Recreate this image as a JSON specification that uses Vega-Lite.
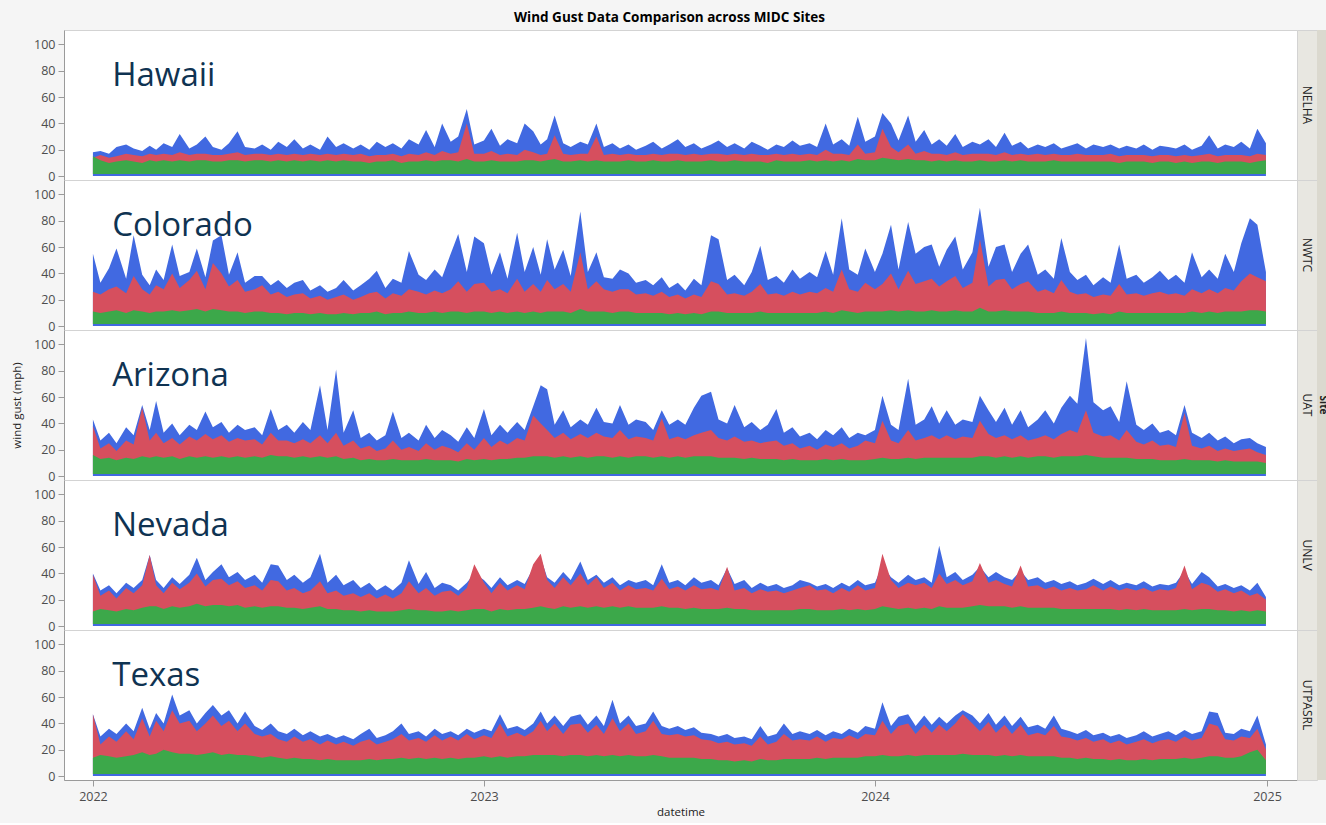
{
"$schema":"https://vega.github.io/schema/vega-lite/v6.json",
"background":"#f5f5f5",
"padding":{"left":11,"right":0,"top":11,"bottom":4},
"title":{"text":"Wind Gust Data Comparison across MIDC Sites","fontSize":13.5,"font":"Open Sans","fontWeight":"bold","color":"#000","offset":5,"anchor":"middle"},
"config":{
 "font":"Open Sans",
 "view":{"fill":"white","stroke":"#d3d3d3"},
 "axis":{"labelOverlap":false},
 "axisY":{"labelFontSize":12.5,"labelColor":"#4d4d4d","tickColor":"#9a9a9a","domainColor":"#9a9a9a","tickSize":6,"grid":false,"labelPadding":3,"labelOverlap":false,"titleFontSize":11.5,"titleFontWeight":"normal","titleColor":"#222","titlePadding":11},
 "axisX":{"labelFontSize":12.5,"labelColor":"#4d4d4d","tickColor":"#9a9a9a","domainColor":"#9a9a9a","tickSize":6,"grid":false,"labelPadding":4,"labelFlush":false,"titleFontSize":11.5,"titleFontWeight":"normal","titleColor":"#222","titlePadding":4}
},
"data":{"values":[
{"t":"2022-01-01","hb":18,"hr":14,"hg":15,"cb":55,"cr":26,"cg":11,"ab":43,"ar":38,"ag":16,"nb":40,"nr":39,"ng":11,"tb":47,"tr":47,"tg":14},
{"t":"2022-01-08","hb":19,"hr":16,"hg":12,"cb":33,"cr":24,"cg":10,"ab":27,"ar":21,"ag":13,"nb":27,"nr":23,"ng":13,"tb":30,"tr":24,"tg":16},
{"t":"2022-01-16","hb":17,"hr":14,"hg":10,"cb":44,"cr":28,"cg":11,"ab":33,"ar":25,"ag":14,"nb":31,"nr":27,"ng":12,"tb":36,"tr":30,"tg":15},
{"t":"2022-01-23","hb":22,"hr":15,"hg":11,"cb":59,"cr":30,"cg":12,"ab":25,"ar":19,"ag":12,"nb":25,"nr":21,"ng":11,"tb":32,"tr":26,"tg":14},
{"t":"2022-02-01","hb":24,"hr":17,"hg":12,"cb":36,"cr":25,"cg":10,"ab":37,"ar":27,"ag":14,"nb":33,"nr":29,"ng":13,"tb":40,"tr":34,"tg":15},
{"t":"2022-02-08","hb":21,"hr":16,"hg":11,"cb":69,"cr":38,"cg":12,"ab":31,"ar":24,"ag":13,"nb":29,"nr":25,"ng":12,"tb":34,"tr":28,"tg":16},
{"t":"2022-02-16","hb":19,"hr":15,"hg":10,"cb":39,"cr":28,"cg":11,"ab":54,"ar":52,"ag":15,"nb":35,"nr":31,"ng":14,"tb":52,"tr":44,"tg":18},
{"t":"2022-02-23","hb":23,"hr":17,"hg":12,"cb":31,"cr":24,"cg":10,"ab":35,"ar":27,"ag":14,"nb":54,"nr":54,"ng":15,"tb":36,"tr":30,"tg":16},
{"t":"2022-03-01","hb":20,"hr":16,"hg":11,"cb":43,"cr":31,"cg":11,"ab":57,"ar":33,"ag":15,"nb":35,"nr":31,"ng":15,"tb":48,"tr":42,"tg":17},
{"t":"2022-03-08","hb":25,"hr":17,"hg":12,"cb":35,"cr":28,"cg":11,"ab":33,"ar":25,"ag":14,"nb":29,"nr":25,"ng":13,"tb":40,"tr":34,"tg":20},
{"t":"2022-03-16","hb":22,"hr":16,"hg":11,"cb":62,"cr":40,"cg":12,"ab":40,"ar":29,"ag":15,"nb":37,"nr":33,"ng":15,"tb":62,"tr":50,"tg":18},
{"t":"2022-03-23","hb":32,"hr":18,"hg":12,"cb":38,"cr":29,"cg":11,"ab":31,"ar":24,"ag":13,"nb":32,"nr":28,"ng":14,"tb":46,"tr":40,"tg":17},
{"t":"2022-04-01","hb":21,"hr":16,"hg":11,"cb":41,"cr":35,"cg":12,"ab":39,"ar":30,"ag":15,"nb":39,"nr":33,"ng":15,"tb":50,"tr":42,"tg":17},
{"t":"2022-04-08","hb":24,"hr":17,"hg":12,"cb":59,"cr":42,"cg":13,"ab":35,"ar":27,"ag":14,"nb":52,"nr":40,"ng":17,"tb":40,"tr":34,"tg":16},
{"t":"2022-04-16","hb":30,"hr":17,"hg":12,"cb":37,"cr":28,"cg":11,"ab":49,"ar":32,"ag":15,"nb":35,"nr":30,"ng":15,"tb":48,"tr":40,"tg":17},
{"t":"2022-04-23","hb":22,"hr":16,"hg":11,"cb":65,"cr":48,"cg":13,"ab":37,"ar":28,"ag":14,"nb":41,"nr":35,"ng":16,"tb":54,"tr":46,"tg":18},
{"t":"2022-05-01","hb":20,"hr":16,"hg":11,"cb":69,"cr":40,"cg":12,"ab":41,"ar":31,"ag":15,"nb":47,"nr":36,"ng":16,"tb":46,"tr":38,"tg":16},
{"t":"2022-05-08","hb":25,"hr":17,"hg":12,"cb":39,"cr":30,"cg":11,"ab":33,"ar":26,"ag":14,"nb":37,"nr":31,"ng":15,"tb":50,"tr":42,"tg":17},
{"t":"2022-05-16","hb":34,"hr":18,"hg":12,"cb":56,"cr":35,"cg":11,"ab":39,"ar":29,"ag":15,"nb":41,"nr":34,"ng":16,"tb":40,"tr":34,"tg":16},
{"t":"2022-05-23","hb":22,"hr":16,"hg":11,"cb":33,"cr":26,"cg":10,"ab":35,"ar":27,"ag":14,"nb":35,"nr":29,"ng":14,"tb":49,"tr":40,"tg":16},
{"t":"2022-06-01","hb":21,"hr":17,"hg":12,"cb":38,"cr":28,"cg":11,"ab":37,"ar":28,"ag":15,"nb":39,"nr":31,"ng":15,"tb":38,"tr":32,"tg":15},
{"t":"2022-06-08","hb":24,"hr":17,"hg":12,"cb":38,"cr":31,"cg":11,"ab":31,"ar":24,"ag":14,"nb":33,"nr":27,"ng":14,"tb":35,"tr":30,"tg":14},
{"t":"2022-06-16","hb":20,"hr":16,"hg":11,"cb":31,"cr":24,"cg":10,"ab":51,"ar":33,"ag":16,"nb":47,"nr":35,"ng":15,"tb":40,"tr":32,"tg":15},
{"t":"2022-06-23","hb":26,"hr":17,"hg":12,"cb":35,"cr":26,"cg":10,"ab":35,"ar":27,"ag":15,"nb":46,"nr":34,"ng":15,"tb":34,"tr":28,"tg":14},
{"t":"2022-07-01","hb":22,"hr":16,"hg":11,"cb":29,"cr":22,"cg":9,"ab":39,"ar":27,"ag":15,"nb":35,"nr":27,"ng":14,"tb":32,"tr":26,"tg":13},
{"t":"2022-07-08","hb":28,"hr":17,"hg":12,"cb":33,"cr":24,"cg":10,"ab":33,"ar":25,"ag":14,"nb":39,"nr":29,"ng":14,"tb":36,"tr":30,"tg":14},
{"t":"2022-07-16","hb":21,"hr":16,"hg":11,"cb":35,"cr":25,"cg":10,"ab":41,"ar":28,"ag":15,"nb":33,"nr":25,"ng":13,"tb":31,"tr":26,"tg":13},
{"t":"2022-07-23","hb":24,"hr":17,"hg":12,"cb":27,"cr":21,"cg":9,"ab":35,"ar":25,"ag":14,"nb":37,"nr":27,"ng":14,"tb":34,"tr":28,"tg":13},
{"t":"2022-08-01","hb":20,"hr":16,"hg":11,"cb":31,"cr":23,"cg":10,"ab":69,"ar":31,"ag":15,"nb":55,"nr":34,"ng":15,"tb":30,"tr":24,"tg":12},
{"t":"2022-08-08","hb":30,"hr":17,"hg":12,"cb":26,"cr":20,"cg":9,"ab":35,"ar":25,"ag":14,"nb":33,"nr":25,"ng":13,"tb":32,"tr":27,"tg":13},
{"t":"2022-08-16","hb":22,"hr":16,"hg":11,"cb":29,"cr":22,"cg":9,"ab":81,"ar":33,"ag":15,"nb":39,"nr":27,"ng":13,"tb":29,"tr":24,"tg":12},
{"t":"2022-08-23","hb":25,"hr":17,"hg":12,"cb":35,"cr":24,"cg":10,"ab":33,"ar":23,"ag":13,"nb":31,"nr":23,"ng":12,"tb":31,"tr":26,"tg":12},
{"t":"2022-09-01","hb":21,"hr":16,"hg":11,"cb":27,"cr":20,"cg":9,"ab":50,"ar":27,"ag":14,"nb":35,"nr":25,"ng":12,"tb":28,"tr":23,"tg":12},
{"t":"2022-09-08","hb":24,"hr":17,"hg":11,"cb":31,"cr":22,"cg":10,"ab":29,"ar":21,"ag":12,"nb":29,"nr":22,"ng":11,"tb":32,"tr":26,"tg":12},
{"t":"2022-09-16","hb":20,"hr":15,"hg":10,"cb":36,"cr":25,"cg":10,"ab":33,"ar":23,"ag":13,"nb":33,"nr":25,"ng":12,"tb":36,"tr":28,"tg":13},
{"t":"2022-09-23","hb":26,"hr":16,"hg":11,"cb":42,"cr":26,"cg":11,"ab":27,"ar":19,"ag":12,"nb":27,"nr":21,"ng":11,"tb":29,"tr":24,"tg":12},
{"t":"2022-10-01","hb":22,"hr":16,"hg":11,"cb":29,"cr":21,"cg":9,"ab":31,"ar":21,"ag":12,"nb":31,"nr":24,"ng":11,"tb":31,"tr":26,"tg":13},
{"t":"2022-10-08","hb":25,"hr":17,"hg":12,"cb":36,"cr":25,"cg":10,"ab":49,"ar":27,"ag":13,"nb":27,"nr":21,"ng":11,"tb":34,"tr":28,"tg":13},
{"t":"2022-10-16","hb":21,"hr":15,"hg":10,"cb":33,"cr":23,"cg":10,"ab":29,"ar":20,"ag":12,"nb":33,"nr":25,"ng":12,"tb":40,"tr":32,"tg":14},
{"t":"2022-10-23","hb":28,"hr":17,"hg":11,"cb":57,"cr":28,"cg":11,"ab":33,"ar":22,"ag":12,"nb":50,"nr":34,"ng":13,"tb":32,"tr":27,"tg":13},
{"t":"2022-11-01","hb":24,"hr":16,"hg":11,"cb":39,"cr":26,"cg":10,"ab":27,"ar":19,"ag":12,"nb":32,"nr":25,"ng":12,"tb":34,"tr":29,"tg":14},
{"t":"2022-11-08","hb":35,"hr":18,"hg":12,"cb":35,"cr":24,"cg":10,"ab":39,"ar":25,"ag":13,"nb":41,"nr":29,"ng":12,"tb":30,"tr":26,"tg":13},
{"t":"2022-11-16","hb":22,"hr":16,"hg":11,"cb":43,"cr":27,"cg":11,"ab":29,"ar":20,"ag":12,"nb":29,"nr":23,"ng":11,"tb":36,"tr":31,"tg":14},
{"t":"2022-11-23","hb":40,"hr":19,"hg":12,"cb":37,"cr":25,"cg":10,"ab":35,"ar":23,"ag":12,"nb":33,"nr":26,"ng":11,"tb":32,"tr":27,"tg":13},
{"t":"2022-12-01","hb":26,"hr":17,"hg":12,"cb":55,"cr":28,"cg":11,"ab":31,"ar":21,"ag":12,"nb":31,"nr":27,"ng":12,"tb":34,"tr":30,"tg":14},
{"t":"2022-12-08","hb":30,"hr":18,"hg":11,"cb":70,"cr":34,"cg":11,"ab":26,"ar":18,"ag":11,"nb":27,"nr":23,"ng":11,"tb":31,"tr":27,"tg":13},
{"t":"2022-12-16","hb":51,"hr":40,"hg":13,"cb":41,"cr":26,"cg":10,"ab":37,"ar":25,"ag":13,"nb":33,"nr":29,"ng":12,"tb":36,"tr":32,"tg":14},
{"t":"2022-12-23","hb":24,"hr":17,"hg":11,"cb":68,"cr":32,"cg":11,"ab":29,"ar":20,"ag":12,"nb":40,"nr":47,"ng":13,"tb":33,"tr":28,"tg":14},
{"t":"2023-01-01","hb":27,"hr":17,"hg":11,"cb":63,"cr":33,"cg":11,"ab":51,"ar":29,"ag":13,"nb":35,"nr":33,"ng":13,"tb":36,"tr":31,"tg":15},
{"t":"2023-01-08","hb":36,"hr":19,"hg":12,"cb":39,"cr":26,"cg":10,"ab":31,"ar":22,"ag":12,"nb":29,"nr":25,"ng":11,"tb":34,"tr":29,"tg":14},
{"t":"2023-01-16","hb":23,"hr":16,"hg":11,"cb":56,"cr":28,"cg":11,"ab":39,"ar":27,"ag":13,"nb":37,"nr":33,"ng":13,"tb":47,"tr":40,"tg":15},
{"t":"2023-01-23","hb":28,"hr":17,"hg":11,"cb":36,"cr":25,"cg":10,"ab":33,"ar":24,"ag":13,"nb":31,"nr":27,"ng":12,"tb":36,"tr":30,"tg":14},
{"t":"2023-02-01","hb":25,"hr":16,"hg":11,"cb":71,"cr":36,"cg":11,"ab":41,"ar":29,"ag":14,"nb":35,"nr":31,"ng":13,"tb":38,"tr":33,"tg":15},
{"t":"2023-02-08","hb":40,"hr":20,"hg":12,"cb":41,"cr":26,"cg":10,"ab":35,"ar":27,"ag":14,"nb":32,"nr":28,"ng":13,"tb":35,"tr":30,"tg":15},
{"t":"2023-02-16","hb":34,"hr":18,"hg":12,"cb":60,"cr":32,"cg":11,"ab":53,"ar":46,"ag":15,"nb":44,"nr":47,"ng":14,"tb":40,"tr":34,"tg":16},
{"t":"2023-02-23","hb":24,"hr":16,"hg":11,"cb":39,"cr":26,"cg":10,"ab":69,"ar":40,"ag":15,"nb":52,"nr":55,"ng":15,"tb":49,"tr":42,"tg":16},
{"t":"2023-03-01","hb":28,"hr":17,"hg":12,"cb":66,"cr":35,"cg":11,"ab":66,"ar":35,"ag":15,"nb":37,"nr":35,"ng":14,"tb":40,"tr":34,"tg":16},
{"t":"2023-03-08","hb":46,"hr":31,"hg":13,"cb":43,"cr":28,"cg":11,"ab":39,"ar":29,"ag":14,"nb":33,"nr":29,"ng":13,"tb":46,"tr":40,"tg":16},
{"t":"2023-03-16","hb":25,"hr":17,"hg":11,"cb":58,"cr":32,"cg":11,"ab":50,"ar":33,"ag":15,"nb":41,"nr":37,"ng":15,"tb":38,"tr":32,"tg":15},
{"t":"2023-03-23","hb":22,"hr":16,"hg":11,"cb":38,"cr":26,"cg":10,"ab":37,"ar":28,"ag":14,"nb":35,"nr":31,"ng":14,"tb":45,"tr":39,"tg":16},
{"t":"2023-04-01","hb":26,"hr":17,"hg":12,"cb":87,"cr":56,"cg":13,"ab":43,"ar":32,"ag":15,"nb":49,"nr":40,"ng":15,"tb":47,"tr":40,"tg":16},
{"t":"2023-04-08","hb":24,"hr":17,"hg":11,"cb":41,"cr":28,"cg":11,"ab":39,"ar":29,"ag":14,"nb":35,"nr":31,"ng":14,"tb":39,"tr":33,"tg":15},
{"t":"2023-04-16","hb":40,"hr":30,"hg":12,"cb":56,"cr":34,"cg":11,"ab":52,"ar":33,"ag":15,"nb":39,"nr":37,"ng":15,"tb":46,"tr":39,"tg":16},
{"t":"2023-04-23","hb":22,"hr":16,"hg":11,"cb":37,"cr":28,"cg":11,"ab":41,"ar":30,"ag":15,"nb":33,"nr":29,"ng":14,"tb":38,"tr":32,"tg":15},
{"t":"2023-05-01","hb":25,"hr":17,"hg":11,"cb":36,"cr":26,"cg":10,"ab":40,"ar":29,"ag":14,"nb":37,"nr":33,"ng":15,"tb":58,"tr":44,"tg":16},
{"t":"2023-05-08","hb":21,"hr":16,"hg":11,"cb":43,"cr":28,"cg":11,"ab":54,"ar":35,"ag":15,"nb":31,"nr":27,"ng":14,"tb":40,"tr":34,"tg":15},
{"t":"2023-05-16","hb":24,"hr":17,"hg":12,"cb":40,"cr":28,"cg":11,"ab":39,"ar":28,"ag":14,"nb":35,"nr":31,"ng":15,"tb":46,"tr":40,"tg":16},
{"t":"2023-05-23","hb":20,"hr":16,"hg":11,"cb":33,"cr":24,"cg":10,"ab":43,"ar":30,"ag":15,"nb":33,"nr":28,"ng":14,"tb":38,"tr":32,"tg":15},
{"t":"2023-06-01","hb":23,"hr":16,"hg":11,"cb":35,"cr":25,"cg":10,"ab":41,"ar":29,"ag":15,"nb":35,"nr":29,"ng":14,"tb":40,"tr":34,"tg":15},
{"t":"2023-06-08","hb":26,"hr":17,"hg":12,"cb":31,"cr":23,"cg":10,"ab":35,"ar":27,"ag":14,"nb":31,"nr":27,"ng":14,"tb":49,"tr":42,"tg":16},
{"t":"2023-06-16","hb":21,"hr":16,"hg":11,"cb":37,"cr":26,"cg":10,"ab":50,"ar":44,"ag":15,"nb":47,"nr":36,"ng":15,"tb":38,"tr":32,"tg":15},
{"t":"2023-06-23","hb":24,"hr":17,"hg":11,"cb":29,"cr":22,"cg":9,"ab":39,"ar":28,"ag":14,"nb":33,"nr":28,"ng":14,"tb":36,"tr":31,"tg":14},
{"t":"2023-07-01","hb":28,"hr":17,"hg":12,"cb":33,"cr":24,"cg":10,"ab":43,"ar":30,"ag":15,"nb":35,"nr":30,"ng":14,"tb":38,"tr":32,"tg":14},
{"t":"2023-07-08","hb":22,"hr":16,"hg":11,"cb":27,"cr":21,"cg":9,"ab":39,"ar":28,"ag":14,"nb":31,"nr":27,"ng":13,"tb":35,"tr":30,"tg":14},
{"t":"2023-07-16","hb":25,"hr":17,"hg":11,"cb":36,"cr":24,"cg":10,"ab":52,"ar":31,"ag":15,"nb":37,"nr":31,"ng":14,"tb":37,"tr":31,"tg":14},
{"t":"2023-07-23","hb":21,"hr":16,"hg":11,"cb":31,"cr":22,"cg":9,"ab":61,"ar":33,"ag":15,"nb":33,"nr":28,"ng":13,"tb":33,"tr":28,"tg":13},
{"t":"2023-08-01","hb":24,"hr":17,"hg":12,"cb":69,"cr":34,"cg":11,"ab":64,"ar":35,"ag":15,"nb":35,"nr":29,"ng":13,"tb":32,"tr":27,"tg":13},
{"t":"2023-08-08","hb":27,"hr":17,"hg":11,"cb":66,"cr":32,"cg":11,"ab":43,"ar":29,"ag":14,"nb":31,"nr":27,"ng":13,"tb":30,"tr":25,"tg":12},
{"t":"2023-08-16","hb":22,"hr":16,"hg":11,"cb":35,"cr":24,"cg":10,"ab":40,"ar":27,"ag":14,"nb":44,"nr":45,"ng":14,"tb":32,"tr":26,"tg":12},
{"t":"2023-08-23","hb":25,"hr":17,"hg":12,"cb":39,"cr":25,"cg":10,"ab":54,"ar":30,"ag":14,"nb":32,"nr":27,"ng":13,"tb":29,"tr":24,"tg":11},
{"t":"2023-09-01","hb":21,"hr":16,"hg":11,"cb":31,"cr":23,"cg":10,"ab":37,"ar":26,"ag":13,"nb":35,"nr":29,"ng":13,"tb":30,"tr":25,"tg":12},
{"t":"2023-09-08","hb":26,"hr":17,"hg":11,"cb":41,"cr":26,"cg":10,"ab":41,"ar":27,"ag":14,"nb":29,"nr":25,"ng":12,"tb":28,"tr":23,"tg":11},
{"t":"2023-09-16","hb":23,"hr":16,"hg":11,"cb":61,"cr":32,"cg":11,"ab":35,"ar":25,"ag":13,"nb":33,"nr":28,"ng":12,"tb":38,"tr":30,"tg":13},
{"t":"2023-09-23","hb":20,"hr":16,"hg":10,"cb":35,"cr":24,"cg":10,"ab":39,"ar":26,"ag":13,"nb":30,"nr":26,"ng":12,"tb":30,"tr":24,"tg":12},
{"t":"2023-10-01","hb":24,"hr":17,"hg":12,"cb":38,"cr":25,"cg":10,"ab":51,"ar":27,"ag":13,"nb":32,"nr":27,"ng":12,"tb":32,"tr":26,"tg":12},
{"t":"2023-10-08","hb":22,"hr":16,"hg":11,"cb":33,"cr":23,"cg":10,"ab":33,"ar":23,"ag":12,"nb":29,"nr":25,"ng":12,"tb":40,"tr":32,"tg":13},
{"t":"2023-10-16","hb":27,"hr":17,"hg":11,"cb":43,"cr":26,"cg":10,"ab":37,"ar":25,"ag":13,"nb":31,"nr":27,"ng":12,"tb":32,"tr":27,"tg":13},
{"t":"2023-10-23","hb":23,"hr":16,"hg":11,"cb":36,"cr":24,"cg":10,"ab":30,"ar":21,"ag":12,"nb":35,"nr":29,"ng":13,"tb":34,"tr":28,"tg":13},
{"t":"2023-11-01","hb":25,"hr":17,"hg":12,"cb":41,"cr":26,"cg":10,"ab":33,"ar":23,"ag":12,"nb":33,"nr":31,"ng":13,"tb":32,"tr":27,"tg":13},
{"t":"2023-11-08","hb":22,"hr":16,"hg":11,"cb":37,"cr":25,"cg":10,"ab":28,"ar":20,"ag":12,"nb":30,"nr":27,"ng":12,"tb":35,"tr":30,"tg":14},
{"t":"2023-11-16","hb":40,"hr":20,"hg":12,"cb":57,"cr":29,"cg":11,"ab":35,"ar":24,"ag":13,"nb":32,"nr":28,"ng":12,"tb":31,"tr":26,"tg":13},
{"t":"2023-11-23","hb":24,"hr":17,"hg":11,"cb":39,"cr":26,"cg":10,"ab":31,"ar":22,"ag":12,"nb":29,"nr":25,"ng":12,"tb":34,"tr":29,"tg":14},
{"t":"2023-12-01","hb":28,"hr":17,"hg":12,"cb":82,"cr":43,"cg":12,"ab":37,"ar":25,"ag":13,"nb":33,"nr":29,"ng":13,"tb":32,"tr":28,"tg":14},
{"t":"2023-12-08","hb":23,"hr":16,"hg":11,"cb":43,"cr":28,"cg":11,"ab":29,"ar":21,"ag":12,"nb":30,"nr":26,"ng":12,"tb":36,"tr":31,"tg":14},
{"t":"2023-12-16","hb":45,"hr":24,"hg":13,"cb":39,"cr":26,"cg":10,"ab":33,"ar":23,"ag":12,"nb":35,"nr":31,"ng":13,"tb":33,"tr":28,"tg":14},
{"t":"2023-12-23","hb":26,"hr":17,"hg":12,"cb":59,"cr":33,"cg":11,"ab":31,"ar":27,"ag":12,"nb":31,"nr":27,"ng":12,"tb":38,"tr":32,"tg":15},
{"t":"2024-01-01","hb":30,"hr":18,"hg":12,"cb":41,"cr":28,"cg":11,"ab":35,"ar":25,"ag":13,"nb":33,"nr":29,"ng":13,"tb":36,"tr":31,"tg":15},
{"t":"2024-01-08","hb":48,"hr":36,"hg":14,"cb":55,"cr":32,"cg":11,"ab":61,"ar":42,"ag":14,"nb":46,"nr":55,"ng":15,"tb":56,"tr":42,"tg":16},
{"t":"2024-01-16","hb":40,"hr":22,"hg":13,"cb":77,"cr":40,"cg":12,"ab":39,"ar":27,"ag":13,"nb":37,"nr":35,"ng":14,"tb":38,"tr":32,"tg":15},
{"t":"2024-01-23","hb":27,"hr":18,"hg":12,"cb":43,"cr":28,"cg":11,"ab":35,"ar":25,"ag":13,"nb":33,"nr":29,"ng":13,"tb":45,"tr":38,"tg":15},
{"t":"2024-02-01","hb":46,"hr":24,"hg":13,"cb":79,"cr":42,"cg":12,"ab":74,"ar":35,"ag":14,"nb":39,"nr":33,"ng":14,"tb":47,"tr":40,"tg":16},
{"t":"2024-02-08","hb":26,"hr":17,"hg":12,"cb":55,"cr":32,"cg":11,"ab":39,"ar":27,"ag":13,"nb":35,"nr":31,"ng":13,"tb":38,"tr":32,"tg":15},
{"t":"2024-02-16","hb":35,"hr":19,"hg":12,"cb":60,"cr":34,"cg":11,"ab":43,"ar":29,"ag":14,"nb":37,"nr":33,"ng":14,"tb":46,"tr":39,"tg":16},
{"t":"2024-02-23","hb":24,"hr":17,"hg":11,"cb":62,"cr":36,"cg":12,"ab":53,"ar":31,"ag":14,"nb":33,"nr":29,"ng":13,"tb":39,"tr":33,"tg":16},
{"t":"2024-03-01","hb":28,"hr":17,"hg":12,"cb":45,"cr":30,"cg":11,"ab":40,"ar":28,"ag":14,"nb":61,"nr":40,"ng":15,"tb":45,"tr":39,"tg":16},
{"t":"2024-03-08","hb":23,"hr":16,"hg":11,"cb":58,"cr":34,"cg":11,"ab":50,"ar":31,"ag":14,"nb":37,"nr":32,"ng":14,"tb":40,"tr":34,"tg":16},
{"t":"2024-03-16","hb":32,"hr":18,"hg":12,"cb":68,"cr":38,"cg":12,"ab":39,"ar":28,"ag":14,"nb":41,"nr":35,"ng":14,"tb":46,"tr":40,"tg":16},
{"t":"2024-03-23","hb":22,"hr":16,"hg":11,"cb":43,"cr":29,"cg":11,"ab":43,"ar":30,"ag":14,"nb":35,"nr":31,"ng":14,"tb":50,"tr":47,"tg":17},
{"t":"2024-04-01","hb":26,"hr":17,"hg":11,"cb":56,"cr":33,"cg":11,"ab":41,"ar":29,"ag":14,"nb":39,"nr":34,"ng":15,"tb":46,"tr":40,"tg":16},
{"t":"2024-04-08","hb":24,"hr":17,"hg":12,"cb":90,"cr":66,"cg":14,"ab":61,"ar":42,"ag":15,"nb":45,"nr":48,"ng":16,"tb":40,"tr":34,"tg":16},
{"t":"2024-04-16","hb":28,"hr":17,"hg":11,"cb":45,"cr":30,"cg":11,"ab":50,"ar":32,"ag":15,"nb":37,"nr":33,"ng":15,"tb":48,"tr":41,"tg":16},
{"t":"2024-04-23","hb":22,"hr":16,"hg":11,"cb":60,"cr":35,"cg":11,"ab":41,"ar":29,"ag":14,"nb":41,"nr":35,"ng":15,"tb":39,"tr":33,"tg":15},
{"t":"2024-05-01","hb":33,"hr":18,"hg":12,"cb":62,"cr":36,"cg":12,"ab":52,"ar":31,"ag":15,"nb":37,"nr":32,"ng":15,"tb":46,"tr":39,"tg":16},
{"t":"2024-05-08","hb":23,"hr":16,"hg":11,"cb":41,"cr":28,"cg":11,"ab":39,"ar":28,"ag":14,"nb":35,"nr":30,"ng":14,"tb":38,"tr":32,"tg":15},
{"t":"2024-05-16","hb":26,"hr":17,"hg":12,"cb":55,"cr":32,"cg":11,"ab":50,"ar":31,"ag":15,"nb":42,"nr":46,"ng":15,"tb":45,"tr":39,"tg":16},
{"t":"2024-05-23","hb":21,"hr":16,"hg":11,"cb":62,"cr":34,"cg":11,"ab":37,"ar":27,"ag":14,"nb":35,"nr":30,"ng":14,"tb":37,"tr":31,"tg":15},
{"t":"2024-06-01","hb":24,"hr":17,"hg":11,"cb":39,"cr":26,"cg":10,"ab":43,"ar":29,"ag":15,"nb":37,"nr":31,"ng":14,"tb":39,"tr":33,"tg":15},
{"t":"2024-06-08","hb":22,"hr":16,"hg":11,"cb":43,"cr":28,"cg":10,"ab":50,"ar":31,"ag":15,"nb":33,"nr":28,"ng":14,"tb":36,"tr":31,"tg":15},
{"t":"2024-06-16","hb":25,"hr":17,"hg":12,"cb":36,"cr":25,"cg":10,"ab":40,"ar":28,"ag":14,"nb":35,"nr":30,"ng":14,"tb":46,"tr":38,"tg":15},
{"t":"2024-06-23","hb":21,"hr":16,"hg":11,"cb":67,"cr":35,"cg":11,"ab":52,"ar":32,"ag":15,"nb":32,"nr":27,"ng":13,"tb":36,"tr":30,"tg":14},
{"t":"2024-07-01","hb":23,"hr":16,"hg":11,"cb":41,"cr":26,"cg":10,"ab":61,"ar":35,"ag":15,"nb":34,"nr":29,"ng":13,"tb":34,"tr":29,"tg":14},
{"t":"2024-07-08","hb":25,"hr":17,"hg":11,"cb":35,"cr":24,"cg":10,"ab":55,"ar":33,"ag":15,"nb":31,"nr":27,"ng":13,"tb":32,"tr":27,"tg":13},
{"t":"2024-07-16","hb":21,"hr":16,"hg":11,"cb":39,"cr":25,"cg":10,"ab":105,"ar":50,"ag":16,"nb":33,"nr":28,"ng":13,"tb":35,"tr":29,"tg":14},
{"t":"2024-07-23","hb":24,"hr":16,"hg":11,"cb":31,"cr":22,"cg":9,"ab":56,"ar":33,"ag":15,"nb":36,"nr":31,"ng":13,"tb":31,"tr":26,"tg":13},
{"t":"2024-08-01","hb":22,"hr":16,"hg":11,"cb":37,"cr":24,"cg":10,"ab":50,"ar":30,"ag":14,"nb":32,"nr":27,"ng":13,"tb":33,"tr":28,"tg":13},
{"t":"2024-08-08","hb":24,"hr":17,"hg":11,"cb":33,"cr":23,"cg":9,"ab":53,"ar":31,"ag":14,"nb":35,"nr":30,"ng":13,"tb":30,"tr":25,"tg":12},
{"t":"2024-08-16","hb":21,"hr":15,"hg":10,"cb":62,"cr":32,"cg":11,"ab":41,"ar":27,"ag":14,"nb":31,"nr":27,"ng":12,"tb":32,"tr":27,"tg":13},
{"t":"2024-08-23","hb":23,"hr":16,"hg":11,"cb":36,"cr":24,"cg":10,"ab":72,"ar":35,"ag":14,"nb":33,"nr":29,"ng":13,"tb":29,"tr":24,"tg":12},
{"t":"2024-09-01","hb":21,"hr":16,"hg":11,"cb":39,"cr":25,"cg":10,"ab":39,"ar":26,"ag":13,"nb":31,"nr":27,"ng":12,"tb":31,"tr":26,"tg":12},
{"t":"2024-09-08","hb":24,"hr":16,"hg":11,"cb":33,"cr":23,"cg":10,"ab":35,"ar":24,"ag":13,"nb":34,"nr":29,"ng":13,"tb":34,"tr":28,"tg":13},
{"t":"2024-09-16","hb":20,"hr":15,"hg":10,"cb":37,"cr":25,"cg":10,"ab":40,"ar":27,"ag":13,"nb":30,"nr":26,"ng":12,"tb":30,"tr":25,"tg":12},
{"t":"2024-09-23","hb":23,"hr":16,"hg":11,"cb":42,"cr":26,"cg":10,"ab":33,"ar":23,"ag":12,"nb":32,"nr":28,"ng":12,"tb":32,"tr":27,"tg":13},
{"t":"2024-10-01","hb":22,"hr":16,"hg":11,"cb":35,"cr":24,"cg":10,"ab":35,"ar":24,"ag":12,"nb":31,"nr":27,"ng":12,"tb":34,"tr":28,"tg":13},
{"t":"2024-10-08","hb":21,"hr":15,"hg":10,"cb":39,"cr":25,"cg":10,"ab":31,"ar":22,"ag":12,"nb":33,"nr":29,"ng":12,"tb":31,"tr":26,"tg":13},
{"t":"2024-10-16","hb":24,"hr":16,"hg":11,"cb":33,"cr":23,"cg":10,"ab":54,"ar":48,"ag":13,"nb":42,"nr":46,"ng":13,"tb":35,"tr":30,"tg":14},
{"t":"2024-10-23","hb":20,"hr":15,"hg":10,"cb":56,"cr":28,"cg":11,"ab":33,"ar":23,"ag":12,"nb":32,"nr":28,"ng":12,"tb":32,"tr":27,"tg":13},
{"t":"2024-11-01","hb":23,"hr":16,"hg":11,"cb":37,"cr":25,"cg":10,"ab":29,"ar":21,"ag":12,"nb":41,"nr":33,"ng":13,"tb":34,"tr":29,"tg":14},
{"t":"2024-11-08","hb":31,"hr":17,"hg":11,"cb":43,"cr":28,"cg":11,"ab":33,"ar":23,"ag":12,"nb":37,"nr":31,"ng":13,"tb":49,"tr":40,"tg":15},
{"t":"2024-11-16","hb":21,"hr":15,"hg":10,"cb":36,"cr":25,"cg":10,"ab":27,"ar":19,"ag":11,"nb":30,"nr":26,"ng":12,"tb":48,"tr":38,"tg":15},
{"t":"2024-11-23","hb":24,"hr":16,"hg":11,"cb":55,"cr":29,"cg":11,"ab":30,"ar":21,"ag":12,"nb":32,"nr":28,"ng":12,"tb":33,"tr":28,"tg":14},
{"t":"2024-12-01","hb":22,"hr":16,"hg":11,"cb":41,"cr":27,"cg":11,"ab":25,"ar":19,"ag":11,"nb":29,"nr":25,"ng":11,"tb":32,"tr":27,"tg":14},
{"t":"2024-12-08","hb":26,"hr":16,"hg":11,"cb":63,"cr":34,"cg":11,"ab":28,"ar":20,"ag":11,"nb":31,"nr":27,"ng":12,"tb":36,"tr":30,"tg":15},
{"t":"2024-12-16","hb":21,"hr":15,"hg":10,"cb":82,"cr":40,"cg":12,"ab":29,"ar":21,"ag":11,"nb":27,"nr":23,"ng":11,"tb":34,"tr":29,"tg":18},
{"t":"2024-12-23","hb":36,"hr":17,"hg":11,"cb":77,"cr":37,"cg":12,"ab":25,"ar":18,"ag":11,"nb":33,"nr":25,"ng":12,"tb":46,"tr":36,"tg":20},
{"t":"2024-12-31","hb":25,"hr":16,"hg":12,"cb":41,"cr":34,"cg":11,"ab":22,"ar":16,"ag":10,"nb":22,"nr":20,"ng":11,"tb":24,"tr":20,"tg":12}
]},
"columns":3,
"spacing":0,
"bounds":"flush",
"concat":[
  {"width":1233,"height":150,"layer":[
   {"mark":{"type":"area","color":"#4169e1"},"encoding":{"x":{"field":"t","type":"temporal","axis":null,"scale":{"type":"utc","domain":[{"year":2021,"month":12,"date":5,"utc":true},{"year":2025,"month":1,"date":29,"utc":true}]}},"y":{"field":"hb","type":"quantitative","title":null,"scale":{"domain":[-3,111],"nice":false},"axis":{"labelOverlap":false,"tickCount":6,"values":[0,20,40,60,80,100]}},"y2":{"datum":0}}},
   {"mark":{"type":"area","color":"#d64f5e"},"encoding":{"x":{"field":"t","type":"temporal","axis":null},"y":{"field":"hr","type":"quantitative","title":null,"axis":{"labelOverlap":false,"tickCount":6,"values":[0,20,40,60,80,100]}},"y2":{"datum":1.5}}},
   {"mark":{"type":"area","color":"#3ca84a"},"encoding":{"x":{"field":"t","type":"temporal","axis":null},"y":{"field":"hg","type":"quantitative","title":null,"axis":{"labelOverlap":false,"tickCount":6,"values":[0,20,40,60,80,100]}},"y2":{"datum":1.5}}},
   {"data":{"values":[{"lab":"Hawaii"}]},"mark":{"type":"text","fontSize":33,"color":"#0f3352","align":"left","baseline":"alphabetic"},"encoding":{"x":{"datum":{"year":2022,"month":1,"date":19,"utc":true},"type":"temporal","axis":null},"y":{"datum":68.5,"title":null,"axis":{"labelOverlap":false,"tickCount":6,"values":[0,20,40,60,80,100]}},"text":{"field":"lab"}}}
  ]},
  {"width":20,"height":150,"data":{"values":[{"s":"NELHA"}]},"view":{"fill":"#e8e7e1","stroke":"#d3d3d3"},"mark":{"type":"text","angle":90,"fontSize":12,"color":"#222"},"encoding":{"text":{"field":"s"}}},
  {"width":11,"height":150,"data":{"values":[{"s":""}]},"view":{"fill":"#dbd9cf","stroke":null},"mark":{"type":"text","angle":90,"fontSize":10,"fontWeight":"bold","color":"#222"},"encoding":{"text":{"field":"s"}}},
  {"width":1233,"height":150,"layer":[
   {"mark":{"type":"area","color":"#4169e1"},"encoding":{"x":{"field":"t","type":"temporal","axis":null,"scale":{"type":"utc","domain":[{"year":2021,"month":12,"date":5,"utc":true},{"year":2025,"month":1,"date":29,"utc":true}]}},"y":{"field":"cb","type":"quantitative","title":null,"scale":{"domain":[-3,111],"nice":false},"axis":{"labelOverlap":false,"tickCount":6,"values":[0,20,40,60,80,100]}},"y2":{"datum":0}}},
   {"mark":{"type":"area","color":"#d64f5e"},"encoding":{"x":{"field":"t","type":"temporal","axis":null},"y":{"field":"cr","type":"quantitative","title":null,"axis":{"labelOverlap":false,"tickCount":6,"values":[0,20,40,60,80,100]}},"y2":{"datum":1.5}}},
   {"mark":{"type":"area","color":"#3ca84a"},"encoding":{"x":{"field":"t","type":"temporal","axis":null},"y":{"field":"cg","type":"quantitative","title":null,"axis":{"labelOverlap":false,"tickCount":6,"values":[0,20,40,60,80,100]}},"y2":{"datum":1.5}}},
   {"data":{"values":[{"lab":"Colorado"}]},"mark":{"type":"text","fontSize":33,"color":"#0f3352","align":"left","baseline":"alphabetic"},"encoding":{"x":{"datum":{"year":2022,"month":1,"date":19,"utc":true},"type":"temporal","axis":null},"y":{"datum":68.5,"title":null,"axis":{"labelOverlap":false,"tickCount":6,"values":[0,20,40,60,80,100]}},"text":{"field":"lab"}}}
  ]},
  {"width":20,"height":150,"data":{"values":[{"s":"NWTC"}]},"view":{"fill":"#e8e7e1","stroke":"#d3d3d3"},"mark":{"type":"text","angle":90,"fontSize":12,"color":"#222"},"encoding":{"text":{"field":"s"}}},
  {"width":11,"height":150,"data":{"values":[{"s":""}]},"view":{"fill":"#dbd9cf","stroke":null},"mark":{"type":"text","angle":90,"fontSize":10,"fontWeight":"bold","color":"#222"},"encoding":{"text":{"field":"s"}}},
  {"width":1233,"height":150,"layer":[
   {"mark":{"type":"area","color":"#4169e1"},"encoding":{"x":{"field":"t","type":"temporal","axis":null,"scale":{"type":"utc","domain":[{"year":2021,"month":12,"date":5,"utc":true},{"year":2025,"month":1,"date":29,"utc":true}]}},"y":{"field":"ab","type":"quantitative","title":"wind gust (mph)","scale":{"domain":[-3,111],"nice":false},"axis":{"labelOverlap":false,"tickCount":6,"title":"wind gust (mph)","values":[0,20,40,60,80,100]}},"y2":{"datum":0}}},
   {"mark":{"type":"area","color":"#d64f5e"},"encoding":{"x":{"field":"t","type":"temporal","axis":null},"y":{"field":"ar","type":"quantitative","title":"wind gust (mph)","axis":{"labelOverlap":false,"tickCount":6,"title":"wind gust (mph)","values":[0,20,40,60,80,100]}},"y2":{"datum":1.5}}},
   {"mark":{"type":"area","color":"#3ca84a"},"encoding":{"x":{"field":"t","type":"temporal","axis":null},"y":{"field":"ag","type":"quantitative","title":"wind gust (mph)","axis":{"labelOverlap":false,"tickCount":6,"title":"wind gust (mph)","values":[0,20,40,60,80,100]}},"y2":{"datum":1.5}}},
   {"data":{"values":[{"lab":"Arizona"}]},"mark":{"type":"text","fontSize":33,"color":"#0f3352","align":"left","baseline":"alphabetic"},"encoding":{"x":{"datum":{"year":2022,"month":1,"date":19,"utc":true},"type":"temporal","axis":null},"y":{"datum":68.5,"title":"wind gust (mph)","axis":{"labelOverlap":false,"tickCount":6,"title":"wind gust (mph)","values":[0,20,40,60,80,100]}},"text":{"field":"lab"}}}
  ]},
  {"width":20,"height":150,"data":{"values":[{"s":"UAT"}]},"view":{"fill":"#e8e7e1","stroke":"#d3d3d3"},"mark":{"type":"text","angle":90,"fontSize":12,"color":"#222"},"encoding":{"text":{"field":"s"}}},
  {"width":11,"height":150,"data":{"values":[{"s":"Site"}]},"view":{"fill":"#dbd9cf","stroke":null},"mark":{"type":"text","angle":90,"fontSize":10,"fontWeight":"bold","color":"#222"},"encoding":{"text":{"field":"s"}}},
  {"width":1233,"height":150,"layer":[
   {"mark":{"type":"area","color":"#4169e1"},"encoding":{"x":{"field":"t","type":"temporal","axis":null,"scale":{"type":"utc","domain":[{"year":2021,"month":12,"date":5,"utc":true},{"year":2025,"month":1,"date":29,"utc":true}]}},"y":{"field":"nb","type":"quantitative","title":null,"scale":{"domain":[-3,111],"nice":false},"axis":{"labelOverlap":false,"tickCount":6,"values":[0,20,40,60,80,100]}},"y2":{"datum":0}}},
   {"mark":{"type":"area","color":"#d64f5e"},"encoding":{"x":{"field":"t","type":"temporal","axis":null},"y":{"field":"nr","type":"quantitative","title":null,"axis":{"labelOverlap":false,"tickCount":6,"values":[0,20,40,60,80,100]}},"y2":{"datum":1.5}}},
   {"mark":{"type":"area","color":"#3ca84a"},"encoding":{"x":{"field":"t","type":"temporal","axis":null},"y":{"field":"ng","type":"quantitative","title":null,"axis":{"labelOverlap":false,"tickCount":6,"values":[0,20,40,60,80,100]}},"y2":{"datum":1.5}}},
   {"data":{"values":[{"lab":"Nevada"}]},"mark":{"type":"text","fontSize":33,"color":"#0f3352","align":"left","baseline":"alphabetic"},"encoding":{"x":{"datum":{"year":2022,"month":1,"date":19,"utc":true},"type":"temporal","axis":null},"y":{"datum":68.5,"title":null,"axis":{"labelOverlap":false,"tickCount":6,"values":[0,20,40,60,80,100]}},"text":{"field":"lab"}}}
  ]},
  {"width":20,"height":150,"data":{"values":[{"s":"UNLV"}]},"view":{"fill":"#e8e7e1","stroke":"#d3d3d3"},"mark":{"type":"text","angle":90,"fontSize":12,"color":"#222"},"encoding":{"text":{"field":"s"}}},
  {"width":11,"height":150,"data":{"values":[{"s":""}]},"view":{"fill":"#dbd9cf","stroke":null},"mark":{"type":"text","angle":90,"fontSize":10,"fontWeight":"bold","color":"#222"},"encoding":{"text":{"field":"s"}}},
  {"width":1233,"height":150,"layer":[
   {"mark":{"type":"area","color":"#4169e1"},"encoding":{"x":{"field":"t","type":"temporal","title":"datetime","scale":{"type":"utc","domain":[{"year":2021,"month":12,"date":5,"utc":true},{"year":2025,"month":1,"date":29,"utc":true}]},"axis":{"title":"datetime","format":"%Y","formatType":"utc","values":[{"year":2022,"month":1,"date":1,"utc":true},{"year":2023,"month":1,"date":1,"utc":true},{"year":2024,"month":1,"date":1,"utc":true},{"year":2025,"month":1,"date":1,"utc":true}]}},"y":{"field":"tb","type":"quantitative","title":null,"scale":{"domain":[-3,111],"nice":false},"axis":{"labelOverlap":false,"tickCount":6,"values":[0,20,40,60,80,100]}},"y2":{"datum":0}}},
   {"mark":{"type":"area","color":"#d64f5e"},"encoding":{"x":{"field":"t","type":"temporal","title":"datetime"},"y":{"field":"tr","type":"quantitative","title":null,"axis":{"labelOverlap":false,"tickCount":6,"values":[0,20,40,60,80,100]}},"y2":{"datum":1.5}}},
   {"mark":{"type":"area","color":"#3ca84a"},"encoding":{"x":{"field":"t","type":"temporal","title":"datetime"},"y":{"field":"tg","type":"quantitative","title":null,"axis":{"labelOverlap":false,"tickCount":6,"values":[0,20,40,60,80,100]}},"y2":{"datum":1.5}}},
   {"data":{"values":[{"lab":"Texas"}]},"mark":{"type":"text","fontSize":33,"color":"#0f3352","align":"left","baseline":"alphabetic"},"encoding":{"x":{"datum":{"year":2022,"month":1,"date":19,"utc":true},"type":"temporal","title":"datetime"},"y":{"datum":68.5,"title":null,"axis":{"labelOverlap":false,"tickCount":6,"values":[0,20,40,60,80,100]}},"text":{"field":"lab"}}}
  ]},
  {"width":20,"height":150,"data":{"values":[{"s":"UTPASRL"}]},"view":{"fill":"#e8e7e1","stroke":"#d3d3d3"},"mark":{"type":"text","angle":90,"fontSize":12,"color":"#222"},"encoding":{"text":{"field":"s"}}},
  {"width":11,"height":150,"data":{"values":[{"s":""}]},"view":{"fill":"#dbd9cf","stroke":null},"mark":{"type":"text","angle":90,"fontSize":10,"fontWeight":"bold","color":"#222"},"encoding":{"text":{"field":"s"}}}
]
}
